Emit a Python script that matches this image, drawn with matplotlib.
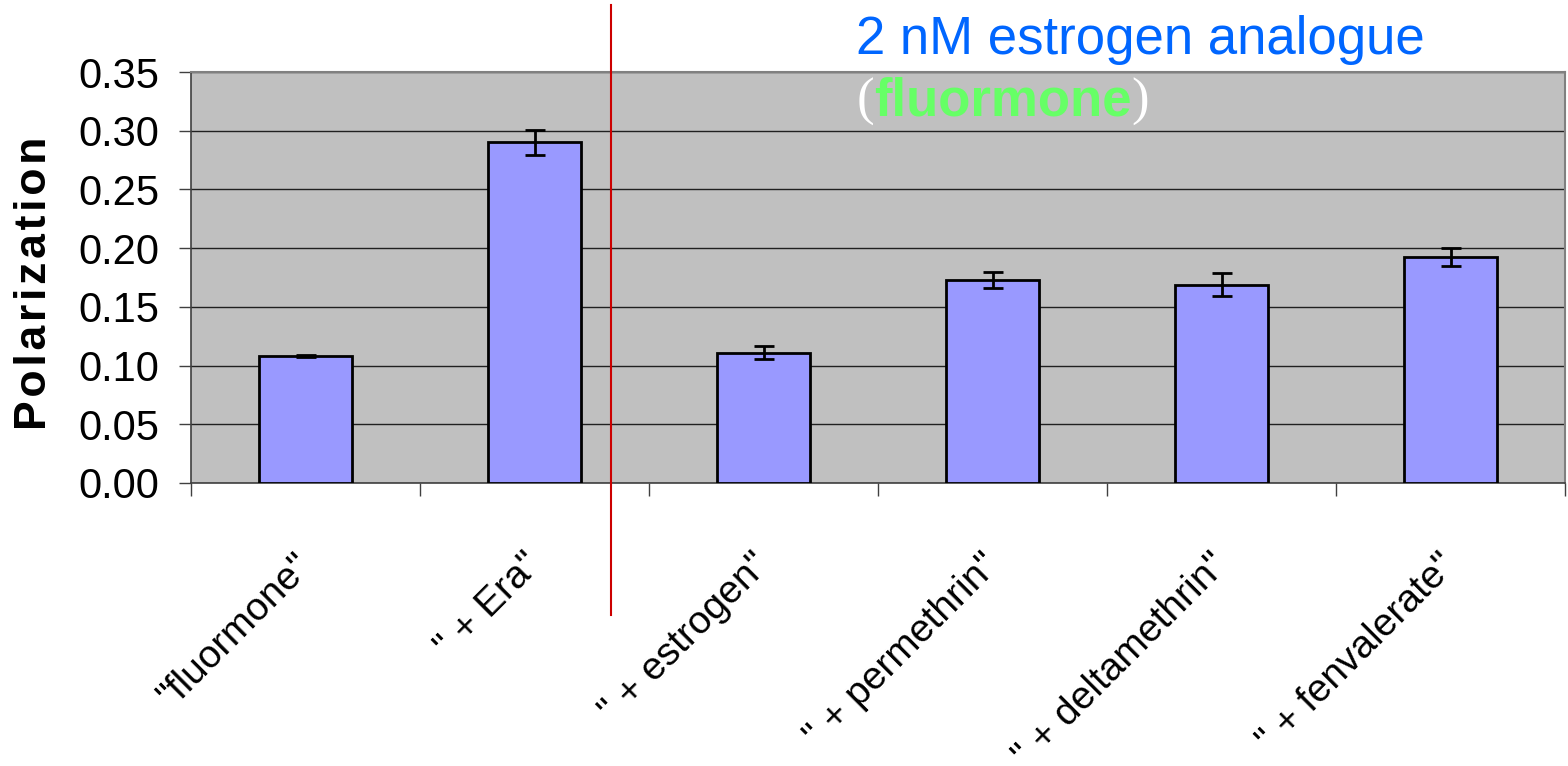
import matplotlib
matplotlib.use("Agg")
import matplotlib.pyplot as plt
import matplotlib.transforms as mtransforms
import numpy as np

plt.rcParams["font.family"] = ["Liberation Sans", "DejaVu Sans"]

# data
categories = ['"fluormone"', '" + Era"', '" + estrogen"', '" + permethrin"',
              '" + deltamethrin"', '" + fenvalerate"']
polarization = [0.108, 0.290, 0.111, 0.173, 0.169, 0.1925]
errors = [0.001, 0.011, 0.0055, 0.007, 0.0095, 0.008]
yticks = [0.00, 0.05, 0.10, 0.15, 0.20, 0.25, 0.30, 0.35]
divider_pos = 1.334  # red separator, in category units

W, H = 1568, 766
fig = plt.figure(figsize=(W / 100, H / 100), dpi=100)
ax = fig.add_axes([191 / W, 1 - 483 / H, (1565 - 191) / W, (483 - 72) / H])
ax.set_facecolor("#c0c0c0")

x = np.arange(len(categories))
ax.bar(x, polarization, width=0.41, color="#9999ff", edgecolor="black",
       linewidth=2.0, zorder=3)
ax.errorbar(x, polarization, yerr=errors, fmt="none", ecolor="black",
            elinewidth=2.0, capsize=7, capthick=2.0, zorder=4)

ax.set_xlim(-0.5, len(categories) - 0.5)
ax.set_ylim(0, 0.35)
ax.set_yticks(yticks)
ax.set_yticklabels(["{:.2f}".format(v) for v in yticks], fontsize=30)
ax.yaxis.grid(True, color="#202020", linewidth=1.0, zorder=1)
ax.set_axisbelow(True)

# ticks at category boundaries, labels at centers
ax.set_xticks(np.arange(len(categories) + 1) - 0.5)
ax.set_xticklabels([])
ax.set_xticks(x, minor=True)
ax.set_xticklabels(categories, minor=True, fontsize=28, rotation=45,
                   ha="right", va="top", rotation_mode="anchor")
ax.tick_params(axis="x", which="major", direction="out", length=9,
               width=1, color="#404040")
ax.tick_params(axis="x", which="minor", length=0, pad=46)
ax.tick_params(axis="y", direction="out", length=9, width=1,
               color="#404040", pad=14)
shift = mtransforms.ScaledTranslation(-12 / 100, 0, fig.dpi_scale_trans)
for lab in ax.get_xticklabels(minor=True):
    lab.set_transform(lab.get_transform() + shift)

for side in ["top", "right"]:
    ax.spines[side].set_color("#808080")
    ax.spines[side].set_linewidth(1.5)
for side in ["left", "bottom"]:
    ax.spines[side].set_color("#404040")
    ax.spines[side].set_linewidth(1.2)

# wide letter spacing like the original axis title
ax.set_ylabel("\u200a".join("Polarization"), fontsize=32, fontweight="bold")
ax.yaxis.set_label_coords(-0.099, 0.485)

# red separator line running beyond the plot area
trans = mtransforms.blended_transform_factory(ax.transData, fig.transFigure)
ax.plot([divider_pos, divider_pos], [1 - 5 / H, 1 - 615 / H], color="#cc0000",
        linewidth=1.5, transform=trans, clip_on=False, zorder=5)

# title text
fig.text(856 / W, 1 - 54 / H, "2 nM estrogen analogue", fontsize=38,
         color="#0066ff", ha="left", va="baseline")
t = fig.text(874 / W, 1 - 115 / H, "fluormone", fontsize=38, fontweight="bold",
             color="#66ff66", ha="left", va="baseline")
ax.annotate("(", xy=(0, 0), xycoords=t, ha="right", va="bottom",
            fontsize=38, color="white", family="Liberation Serif",
            annotation_clip=False)
ax.annotate(")", xy=(1, 0), xycoords=t, ha="left", va="bottom",
            fontsize=38, color="white", family="Liberation Serif",
            annotation_clip=False)

fig.savefig("out.png", dpi=100)
